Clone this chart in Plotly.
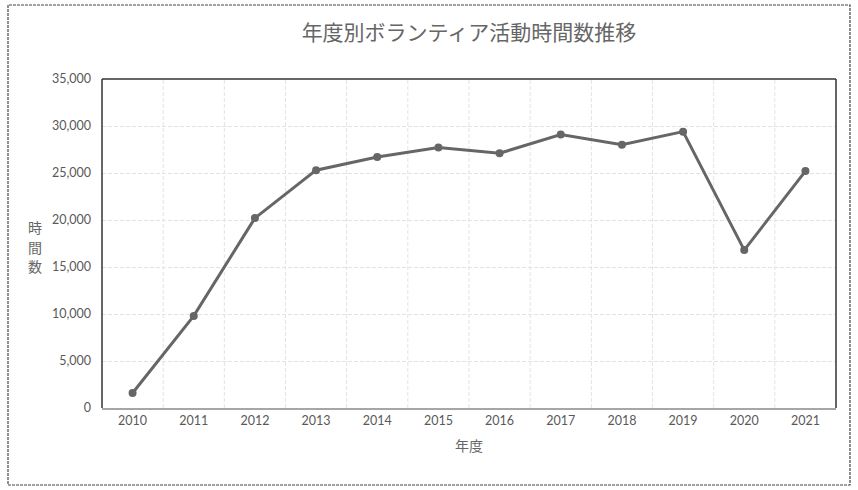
import plotly.graph_objects as go

years = ["2010", "2011", "2012", "2013", "2014", "2015", "2016", "2017", "2018", "2019", "2020", "2021"]
hours = [1600, 9800, 20200, 25300, 26700, 27700, 27100, 29100, 28000, 29400, 16800, 25200]
y_ticks = [0, 5000, 10000, 15000, 20000, 25000, 30000, 35000]

title_text = "年度別ボランティア活動時間数推移"
x_title = "年度"
y_title = "時間数"

W, H = 858, 490
L, R, T, B = 102, 22, 79, 82
pw = W - L - R
ph = H - T - B

def px_to_paper_x(px):
    return (px - L) / pw

def px_to_paper_y(py):
    return (H - B - py) / ph

fig = go.Figure()
fig.add_trace(go.Scatter(
    x=years, y=hours, mode="lines+markers",
    line=dict(color="#666666", width=3),
    marker=dict(color="#666666", size=8),
    hoverinfo="x+y", showlegend=False,
))

grid = "#e3e3e3"
fig.update_layout(
    width=W, height=H,
    margin=dict(l=L, r=R, t=T, b=B),
    paper_bgcolor="white", plot_bgcolor="white",
    font=dict(family="Lato, 'Noto Sans CJK JP'", color="#595959", size=12),
    title=dict(text=title_text, x=0.5, xref="paper", y=1 - 33 / H, yanchor="middle",
               font=dict(family="Noto Sans CJK JP", size=21, color="#666666")),
    xaxis=dict(
        type="category", showgrid=False,
        showline=True, linecolor="#a6a6a6", linewidth=2,
        ticks="", tickfont=dict(size=12.5, color="#595959"),
        title=dict(text=x_title, font=dict(family="Noto Sans CJK JP", size=14, color="#666666"), standoff=14),
        range=[-0.5, 11.5],
    ),
    yaxis=dict(
        range=[0, 35000], tickvals=y_ticks, tickformat=",d",
        showgrid=True, gridcolor=grid, griddash="4px,2px", gridwidth=1,
        zeroline=False, showline=False, ticks="",
        tickfont=dict(size=12.5, color="#595959"), ticklabelstandoff=10,
    ),
)

shapes = []
for k in range(1, 12):
    shapes.append(dict(type="line", xref="x", yref="paper", x0=k - 0.5, x1=k - 0.5, y0=0, y1=1,
                       line=dict(color=grid, width=1, dash="4px,2px"), layer="below"))
for (x0, y0, x1, y1) in [(0, 0, 0, 1), (0, 1, 1, 1), (1, 0, 1, 1)]:
    shapes.append(dict(type="line", xref="paper", yref="paper", x0=x0, y0=y0, x1=x1, y1=y1,
                       line=dict(color="#333333", width=1.5)))
shapes.append(dict(type="rect", xref="paper", yref="paper",
                   x0=px_to_paper_x(8), x1=px_to_paper_x(850),
                   y0=px_to_paper_y(485), y1=px_to_paper_y(5),
                   line=dict(color="#444444", width=1.2, dash="3px,1px")))
fig.update_layout(shapes=shapes)

for i, ch in enumerate(y_title):
    fig.add_annotation(
        text=ch, xref="paper", yref="paper",
        x=px_to_paper_x(35), y=px_to_paper_y(227 + 19 * i), showarrow=False,
        font=dict(family="Noto Sans CJK JP", size=14, color="#666666"),
        xanchor="center", yanchor="middle", height=17, borderpad=0,
    )

fig.write_html("out.html")
